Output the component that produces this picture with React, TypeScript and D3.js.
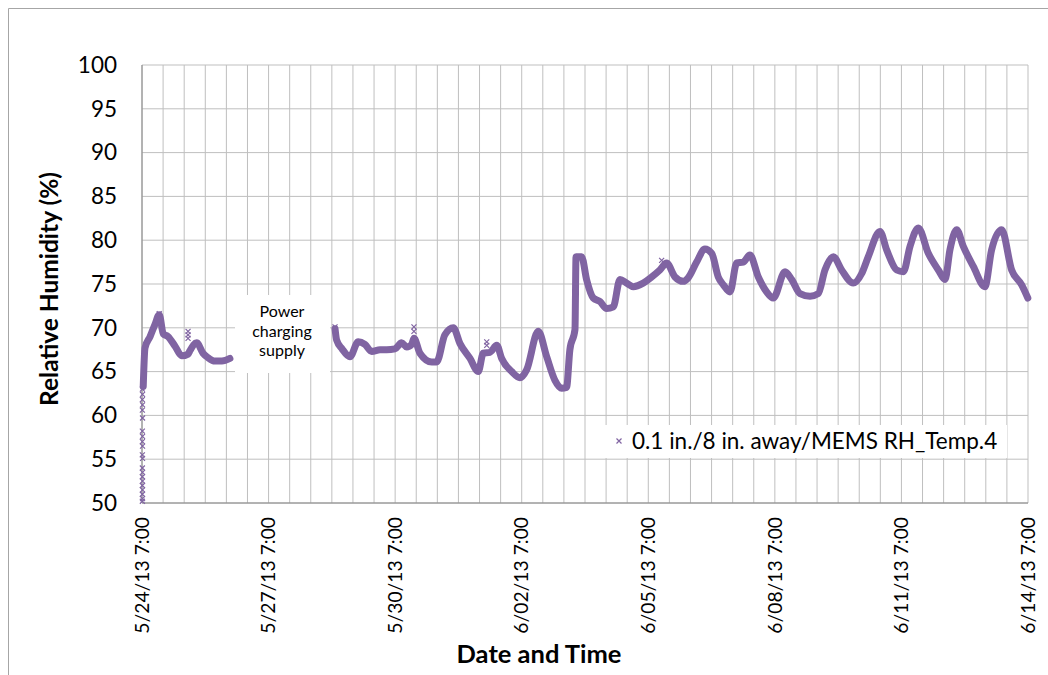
import React from "react";
import * as d3 from "d3";

// ---------- data ----------
const startTime = new Date(2013, 4, 24, 7, 0);
const endTime = new Date(2013, 5, 14, 7, 0);
const xTickLabels = [
  "5/24/13 7:00", "5/27/13 7:00", "5/30/13 7:00", "6/02/13 7:00",
  "6/05/13 7:00", "6/08/13 7:00", "6/11/13 7:00", "6/14/13 7:00",
];
const yTicks = [50, 55, 60, 65, 70, 75, 80, 85, 90, 95, 100];
const seriesName = "0.1 in./8 in. away/MEMS RH_Temp.4";
const noteLines = ["Power", "charging", "supply"];

// hours since 5/24/13 7:00, relative humidity (%)
const seg1Hours = [0.7, 1.7, 4.6, 7.4, 9.8, 12.1, 14.8, 18.8, 22.6, 26.2, 27.3, 31.1, 34.7, 37.5, 41.5, 45.5, 50.0];
const seg1RH = [63.3, 67.7, 69.0, 70.4, 71.5, 69.3, 69.0, 67.9, 66.8, 67.0, 67.4, 68.3, 67.1, 66.6, 66.2, 66.2, 66.5];

const seg2Hours = [
  109.8, 110.7, 113.8, 118.3, 123.0, 126.8, 130.7, 135.4, 139.2, 143.9, 147.7, 150.6, 153.4, 154.7, 158.1,
  164.8, 167.6, 172.3, 177.1, 180.9, 186.6, 191.3, 194.1, 197.9, 201.8, 204.6, 210.3, 215.0, 218.8, 225.4,
  230.2, 234.9, 238.7, 241.5, 243.4, 246.3, 246.9, 250.1, 252.9, 256.7, 260.5, 264.3, 268.1, 271.9, 275.7,
  279.5, 285.1, 289.9, 294.6, 298.4, 303.2, 307.9, 310.7, 315.5, 320.2, 324.1, 327.8, 330.7, 334.5, 338.3,
  342.0, 345.8, 350.6, 355.3, 359.1, 365.8, 369.6, 374.3, 380.0, 384.7, 388.5, 393.3, 398.0, 404.6, 409.4,
  413.1, 419.8, 423.6, 429.3, 433.1, 436.9, 441.6, 447.3, 453.0, 456.8, 459.6, 463.4, 467.2, 472.9, 479.5,
  483.3, 489.0, 494.7, 500.4, 503.9,
];
const seg2RH = [
  69.9, 68.6, 67.6, 66.7, 68.4, 68.1, 67.3, 67.5, 67.5, 67.6, 68.3, 67.8, 68.1, 68.8, 67.1,
  66.1, 66.1, 69.2, 70.0, 68.2, 66.5, 65.0, 67.1, 67.2, 68.0, 66.5, 65.0, 64.3, 65.2, 69.6,
  66.7, 64.0, 63.1, 63.2, 67.5, 69.8, 78.1, 78.1, 75.5, 73.4, 73.0, 72.2, 72.4, 75.5, 75.1,
  74.7, 75.1, 75.8, 76.6, 77.4, 75.8, 75.3, 75.7, 77.5, 79.0, 78.5, 75.8, 74.9, 74.1, 77.4,
  77.5, 78.3, 75.8, 74.1, 73.4, 76.4, 75.5, 73.9, 73.6, 73.9, 76.6, 78.1, 76.6, 75.1, 76.2,
  78.1, 81.0, 78.9, 76.6, 76.4, 79.3, 81.4, 78.5, 76.6, 75.5, 78.9, 81.2, 79.3, 77.0, 74.7,
  78.9, 81.2, 76.6, 74.9, 73.4,
];

// isolated readings drawn as single markers
const outlierHours = [
  0.2, 0.3, 0.2, 0.3, 0.2, 0.3, 0.2, 0.3, 0.2, 0.3, 0.2, 0.3, 0.2, 0.3, 0.2, 0.3, 0.2, 0.3, 0.2, 0.3, 0.2,
  26.2, 26.2, 26.2, 109.8, 154.7, 154.7, 196.1, 196.1, 295.6, 9.8,
];
const outlierRH = [
  63.0, 62.4, 61.8, 61.2, 60.6, 59.7, 58.2, 57.6, 57.0, 56.5, 55.5, 55.1, 54.0, 53.5, 53.0, 52.5, 52.0, 51.5, 51.0, 50.5, 50.2,
  69.6, 69.2, 68.8, 70.1, 70.1, 69.6, 68.4, 68.0, 77.7, 71.6,
];

// ---------- chart ----------
const W = 1048;
const H = 675;
const plot = { left: 142, right: 1028, top: 65, bottom: 503 };
const purple = "#8064A2";
const fontFamily = "Lato, 'Open Sans', sans-serif";

const toDate = (h: number) => new Date(startTime.getTime() + h * 3600e3);

export default function App() {
  const x = d3.scaleTime().domain([startTime, endTime]).range([plot.left, plot.right]);
  const y = d3.scaleLinear().domain([50, 100]).range([plot.bottom, plot.top]);

  const gridHours = d3.range(0, 505, 12);
  const labelDates = xTickLabels.map((_, i) => toDate(i * 72));

  const line = d3
    .line<[number, number]>()
    .x((d) => x(toDate(d[0])))
    .y((d) => y(d[1]))
    .curve(d3.curveMonotoneX);

  const seg1 = seg1Hours.map((h, i) => [h, seg1RH[i]] as [number, number]);
  const seg2 = seg2Hours.map((h, i) => [h, seg2RH[i]] as [number, number]);
  const outliers = outlierHours.map((h, i) => [h, outlierRH[i]] as [number, number]);

  const cross = (cx: number, cy: number, r: number, key: string) => (
    <path
      key={key}
      d={`M${cx - r},${cy - r}L${cx + r},${cy + r}M${cx - r},${cy + r}L${cx + r},${cy - r}`}
      stroke={purple}
      strokeWidth={1.2}
      fill="none"
    />
  );

  return (
    <svg
      width={W}
      height={H}
      style={{ position: "absolute", left: 0, top: 0, background: "#fff" }}
      fontFamily={fontFamily}
    >
      <rect x={0} y={0} width={W} height={H} fill="#fff" />
      {/* outer chart border */}
      <path d={`M8.5,${H}V8.5H${W}`} stroke="#A6A6A6" fill="none" strokeWidth={1} />

      {/* vertical gridlines */}
      {gridHours.map((h) => (
        <line
          key={"vg" + h}
          x1={x(toDate(h))}
          x2={x(toDate(h))}
          y1={plot.top}
          y2={plot.bottom}
          stroke="#BFBFBF"
          strokeWidth={1}
        />
      ))}
      {/* horizontal gridlines */}
      {yTicks.map((t) => (
        <line
          key={"hg" + t}
          x1={plot.left}
          x2={plot.right}
          y1={y(t)}
          y2={y(t)}
          stroke="#BFBFBF"
          strokeWidth={1}
        />
      ))}
      {/* axes */}
      <line x1={plot.left} x2={plot.left} y1={plot.top} y2={plot.bottom} stroke="#868686" />
      <line x1={plot.left} x2={plot.right} y1={plot.bottom} y2={plot.bottom} stroke="#868686" />

      {/* y tick labels */}
      {yTicks.map((t) => (
        <text key={"yt" + t} x={117} y={y(t)} dy="0.35em" textAnchor="end" fontSize={22.5} fill="#000">
          {t}
        </text>
      ))}
      {/* x tick labels */}
      {labelDates.map((d, i) => (
        <text
          key={"xt" + i}
          transform={`translate(${x(d)},517) rotate(-90)`}
          dy="0.35em"
          textAnchor="end"
          fontSize={19.3}
          fill="#000"
        >
          {xTickLabels[i]}
        </text>
      ))}

      {/* axis titles */}
      <text
        transform={`translate(58,${(plot.top + plot.bottom) / 2 + 5}) rotate(-90)`}
        textAnchor="middle"
        fontSize={24.5}
        fontWeight="bold"
        fill="#000"
      >
        Relative Humidity (%)
      </text>
      <text x={539} y={663} textAnchor="middle" fontSize={25.5} fontWeight="bold" fill="#000">
        Date and Time
      </text>

      {/* series */}
      {[seg1, seg2].map((s, i) => (
        <path
          key={"seg" + i}
          d={line(s) || ""}
          stroke={purple}
          strokeWidth={7}
          strokeLinejoin="round"
          strokeLinecap="round"
          fill="none"
        />
      ))}
      {outliers.map((p, i) => cross(x(toDate(p[0])), y(p[1]), 2.5, "o" + i))}

      {/* note box */}
      <rect x={235} y={295} width={95} height={78} fill="#fff" />
      {noteLines.map((t, i) => (
        <text key={"n" + i} x={282} y={317 + i * 19.5} textAnchor="middle" fontSize={16} fill="#000">
          {t}
        </text>
      ))}

      {/* legend */}
      <rect x={594} y={425} width={413} height={33} fill="#fff" />
      {cross(619, 441, 2.5, "leg")}
      <text x={632} y={441} dy="0.35em" fontSize={22.5} fill="#000">
        {seriesName}
      </text>
    </svg>
  );
}
